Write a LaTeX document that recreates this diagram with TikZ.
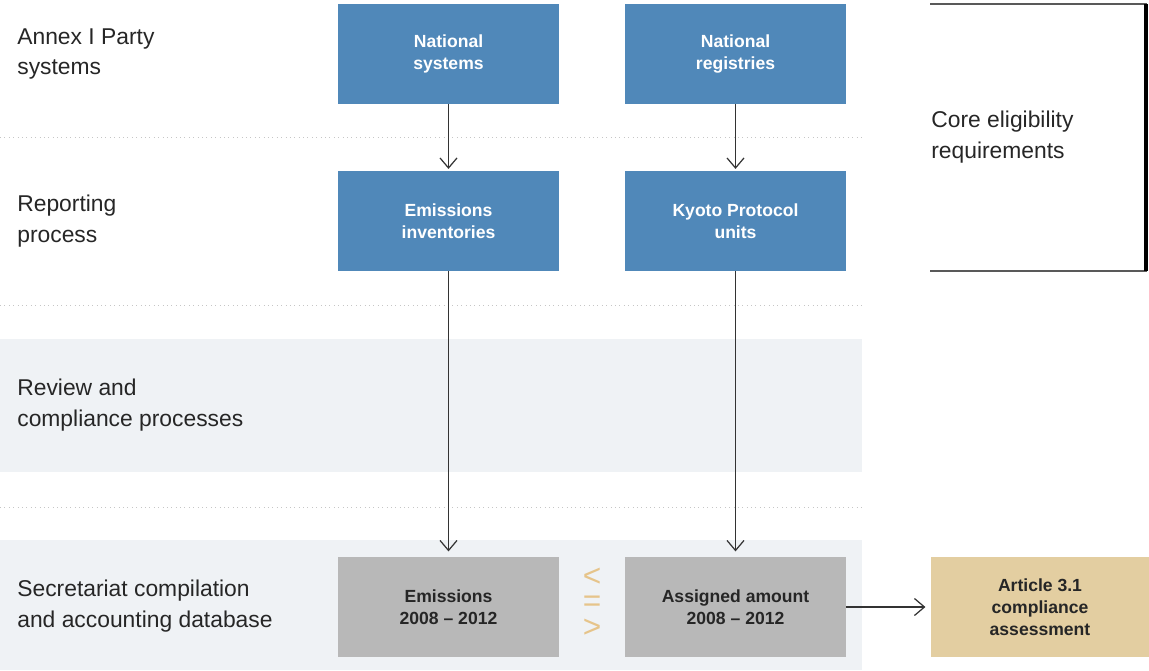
\documentclass[tikz,border=0pt]{standalone}
\usepackage{fontspec}
\setmainfont{Liberation Sans}
\usetikzlibrary{arrows.meta}

\definecolor{boxblue}{HTML}{5088B9}
\definecolor{boxgray}{HTML}{B8B8B8}
\definecolor{boxtan}{HTML}{E3CEA1}
\definecolor{bandgray}{HTML}{EFF2F5}
\definecolor{signtan}{HTML}{E6C48A}

\begin{document}
\begin{tikzpicture}[
    x=0.02cm, y=-0.02cm,
    label/.style={anchor=west, align=left, inner sep=0pt, font=\fontsize{13}{17.6}\selectfont, text=black!85},
    box/.style={rectangle, inner sep=0pt, minimum width=4.42cm, minimum height=2cm, align=center,
                font=\fontsize{10}{12.5}\selectfont\bfseries},
    bluebox/.style={box, fill=boxblue, text=white},
    graybox/.style={box, fill=boxgray, text=black!85},
    tanbox/.style={box, fill=boxtan, text=black!85, minimum width=4.36cm},
    sign/.style={text=signtan, font=\fontsize{18}{18}\selectfont, inner sep=0pt,
                 text height=0.62em, text depth=-0.05em},
    sep/.style={dotted, gray!45, line width=0.5pt},
    arrow/.style={-{Straight Barb[length=2mm, width=3.4mm]}, line width=0.7pt, black!80}
]
\useasboundingbox (0,0) rectangle (1149,670);

% Bands
\fill[bandgray] (0,339) rectangle (862,472);
\fill[bandgray] (0,540) rectangle (862,670);

% Separators
\draw[sep] (0,137) -- (862,137);
\draw[sep] (0,305) -- (862,305);
\draw[sep] (0,507) -- (862,507);

% Row titles
\node[label] (annex)  at (17,54)  {Annex I Party\\systems};
\node[label] (report) at (17,221) {Reporting\\process};
\node[label] (review) at (17,405) {Review and\\compliance processes};
\node[label] (secret) at (17,606) {Secretariat compilation\\and accounting database};

% Boxes
\node[bluebox] (natsys) at (448.5,54)  {National\\systems};
\node[bluebox] (natreg) at (735.5,54)  {National\\registries};
\node[bluebox] (inv)    at (448.5,221) {Emissions\\inventories};
\node[bluebox] (kpu)    at (735.5,221) {Kyoto Protocol\\units};
\node[graybox] (emis)   at (448.5,607) {Emissions\\2008 -- 2012};
\node[graybox] (aa)     at (735.5,607) {Assigned amount\\2008 -- 2012};
\node[tanbox]  (art)    at (1040,607)  {Article 3.1\\compliance\\assessment};

% Comparison sign
\node[sign] (cmplt) at (592,581) {<};
\node[sign] (cmpeq) at (592,606) {=};
\node[sign] (cmpgt) at (592,632) {>};

% Core requirements bracket
\draw[gray!70!black, line width=1pt] (930,4) -- (1147,4);
\draw[gray!70!black, line width=1pt] (930,271) -- (1147,271);
\draw[black, line width=1.8pt] (1146,4) -- (1146,271);
\node[label] (core) at (931,137) {Core eligibility\\requirements};

% Arrows
\draw[arrow, shorten >=1pt] (natsys) -- (inv);
\draw[arrow, shorten >=1pt] (natreg) -- (kpu);
\draw[arrow, shorten >=3pt] (inv) -- (emis);
\draw[arrow, shorten >=3pt] (kpu) -- (aa);
\draw[arrow, shorten >=3pt] (aa) -- (art);

\end{tikzpicture}
\end{document}
